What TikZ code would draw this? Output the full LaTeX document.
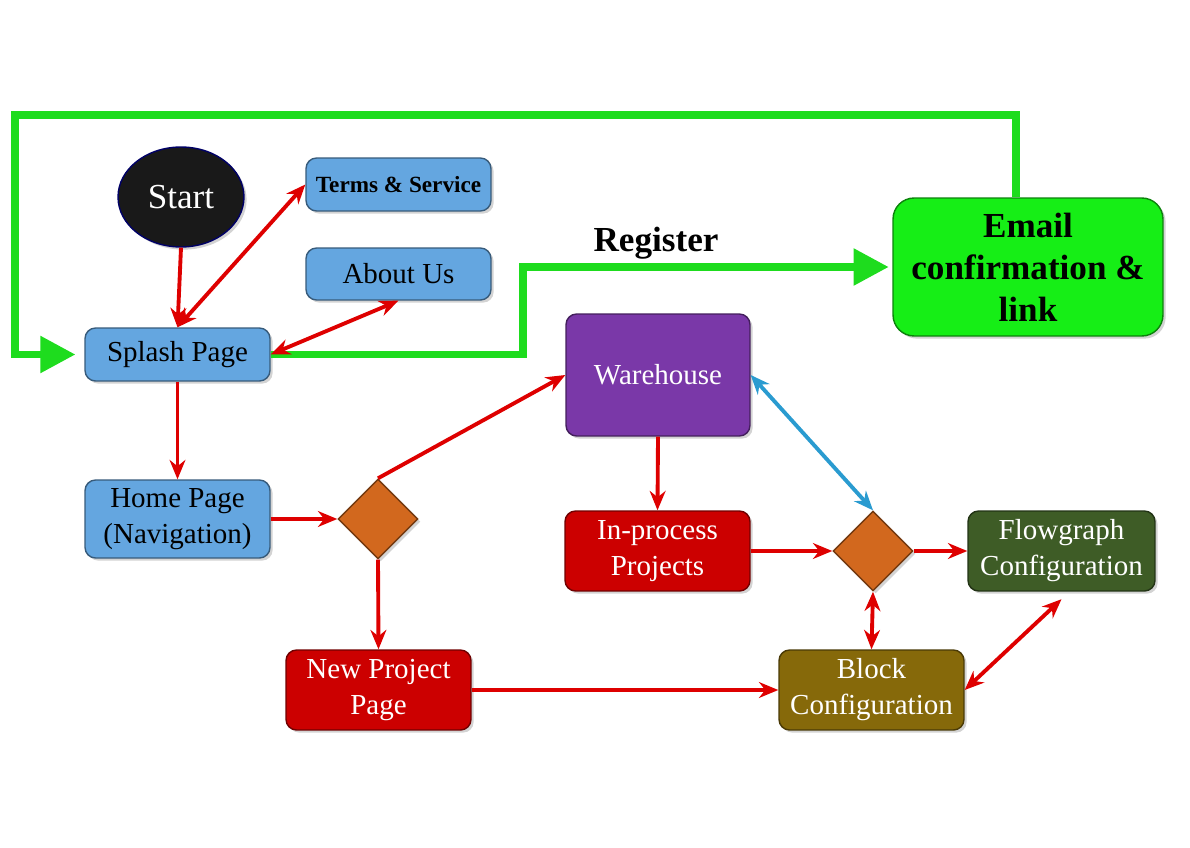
\documentclass[tikz,border=0pt]{standalone}
\usepackage{fontspec}
\setmainfont{Liberation Serif}
\usetikzlibrary{shapes.geometric,arrows.meta,shadows}
\definecolor{pageblue}{RGB}{100,166,224}
\definecolor{storepurple}{RGB}{122,56,168}
\definecolor{projred}{RGB}{204,0,0}
\definecolor{flowgreen}{RGB}{62,92,38}
\definecolor{blockolive}{RGB}{134,105,10}
\definecolor{choiceorange}{RGB}{210,104,30}
\definecolor{mailgreen}{RGB}{22,238,22}
\definecolor{linkgreen}{RGB}{30,220,30}
\definecolor{linkred}{RGB}{222,0,0}
\definecolor{linkblue}{RGB}{42,155,208}
\begin{document}
\begin{tikzpicture}[x=0.02cm,y=-0.02cm,
    pagebox/.style={rounded corners=6pt,draw=#1!55!black,fill=#1,line width=0.8pt,
        minimum width=3.7cm,align=center,inner sep=2pt,
        drop shadow={opacity=0.35,shadow xshift=1.5pt,shadow yshift=-1.5pt}},
    choice/.style={diamond,aspect=1,minimum width=1.6cm,minimum height=1.6cm,inner sep=0pt,
        draw=choiceorange!55!black,fill=choiceorange,line width=0.8pt,
        drop shadow={opacity=0.35,shadow xshift=1.5pt,shadow yshift=-1.5pt}},
    txt/.style={font=\fontsize{16.5}{20.5}\selectfont},
    redarrow/.style={draw=linkred,line width=2.2pt,-{Stealth[length=11pt,width=9pt]}},
    redboth/.style={draw=linkred,line width=2.2pt,{Stealth[length=11pt,width=9pt]}-{Stealth[length=11pt,width=9pt]}},
    blueboth/.style={draw=linkblue,line width=2.2pt,{Stealth[length=11pt,width=9pt]}-{Stealth[length=11pt,width=9pt]}},
    greenarrow/.style={draw=linkgreen,line width=4.5pt,-{Triangle[length=20pt,width=20pt]}}]
    \useasboundingbox (0,0) rectangle (1190,848);

    \node[ellipse,fill=black!90,draw=black!60!blue,line width=0.8pt,minimum width=2.52cm,minimum height=2cm,
        text=white,font=\fontsize{20}{24}\selectfont,
        drop shadow={opacity=0.35,shadow xshift=1.5pt,shadow yshift=-1.5pt}] at (181,197) (start){Start};
    \node[pagebox=pageblue,minimum height=1.06cm,font=\fontsize{13.2}{16}\selectfont\bfseries] at (398.5,184.5) (terms){Terms \& Service};
    \node[pagebox=pageblue,minimum height=1.04cm,txt] at (398.5,274) (about){About Us};
    \node[pagebox=pageblue,minimum height=1.06cm,txt] at (177.5,354.5) (splash){Splash Page};
    \node[pagebox=pageblue,minimum height=1.56cm,txt] at (177.5,519) (home){Home Page\\(Navigation)};
    \node[choice] at (378,519) (pick1){};
    \node[pagebox=projred,minimum height=1.6cm,txt,text=white] at (378.5,690) (newproj){New Project\\Page};
    \node[pagebox=storepurple,minimum width=3.68cm,minimum height=2.44cm,txt,text=white] at (658,375) (store){Warehouse};
    \node[pagebox=projred,minimum height=1.6cm,txt,text=white] at (657.5,551) (inproc){In-process\\Projects};
    \node[choice] at (873,551) (pick2){};
    \node[pagebox=flowgreen,minimum width=3.74cm,minimum height=1.6cm,txt,text=white] at (1061.5,551) (flow){Flowgraph\\Configuration};
    \node[pagebox=blockolive,minimum height=1.6cm,txt,text=white] at (871.5,690) (block){Block\\Configuration};
    \node[pagebox=mailgreen,rounded corners=12pt,minimum width=5.4cm,minimum height=2.76cm,
        font=\fontsize{20}{24}\selectfont\bfseries] at (1028,267) (mail){Email\\confirmation \&\\link};
    \node[font=\fontsize{20}{24}\selectfont\bfseries] at (656,243) (reglabel){Register};

    % green loops
    \draw[greenarrow,shorten >=2pt] (splash.east) -- ++(252,0) |- (mail.west); %register
    \draw[greenarrow,shorten >=5pt] ([xshift=-0.24cm]mail.north) |- (15,115) |- (splash.west); %back to splash

    % red links
    \draw[redarrow] (start.south) -- (splash.north); %start-splash
    \draw[redboth] (splash.north) -- (terms.west); %splash-terms
    \draw[redboth] (splash.east) -- (about.south); %splash-about
    \draw[redarrow] (splash.south) -- (home.north); %splash-home
    \draw[redarrow] (home.east) -- (pick1.west); %home-choice
    \draw[redarrow] (pick1.north) -- (store.west); %choice-warehouse
    \draw[redarrow] (pick1.south) -- (newproj.north); %choice-new
    \draw[redarrow] (newproj.east) -- (block.west); %new-block
    \draw[redarrow] (store.south) -- (inproc.north); %warehouse-inprocess
    \draw[redarrow] (inproc.east) -- (pick2.west); %inprocess-choice
    \draw[redarrow] (pick2.east) -- (flow.west); %choice-flowgraph
    \draw[redboth] (pick2.south) -- (block.north); %choice-block
    \draw[redboth] (block.east) -- ([yshift=-0.15cm]flow.south); %block-flowgraph
    \draw[blueboth] (store.east) -- (pick2.north); %warehouse-choice
\end{tikzpicture}
\end{document}
